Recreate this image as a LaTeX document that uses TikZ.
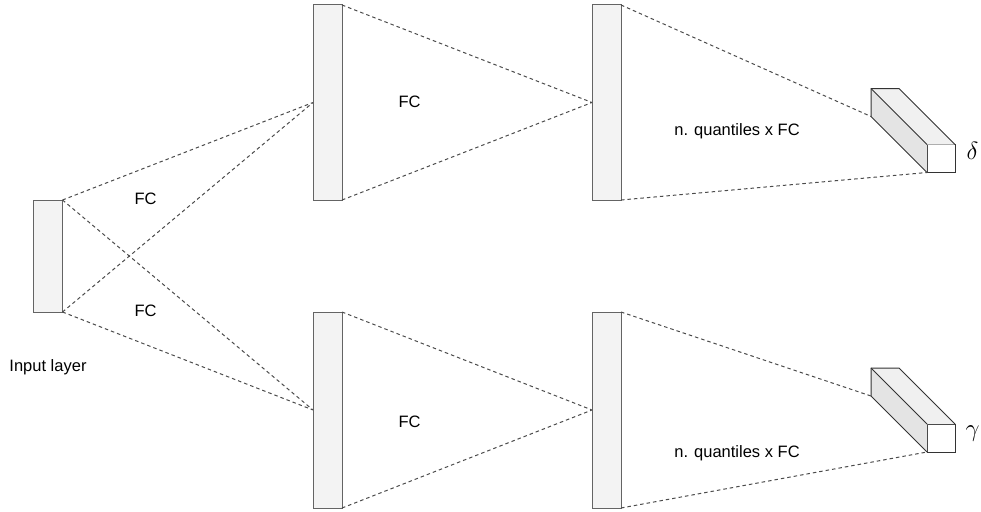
\documentclass[tikz,border=0pt]{standalone}
\usepackage{fontspec}
\setmainfont{Liberation Sans}
\usepackage{xcolor}
\definecolor{nq-fill}{RGB}{243,243,243}
\definecolor{nq-edge}{RGB}{100,100,100}
\definecolor{nq-dash}{RGB}{75,75,75}
\definecolor{nq-top}{RGB}{240,240,240}
\definecolor{nq-side}{RGB}{228,228,228}
\usepackage{tikz}
\usetikzlibrary{positioning}

\begin{document}
\begin{tikzpicture}[x=1pt,y=-1pt,font=\fontsize{16.5}{19}\selectfont,
    layer/.style={draw=nq-edge,fill=nq-fill,line width=1pt,minimum width=29pt,inner sep=0pt,outer sep=0pt},
    link/.style={draw=nq-dash,line width=1pt,dash pattern=on 3.5pt off 3pt},
    front/.style={draw=black!80,fill=white,line width=1pt,minimum size=28pt,inner sep=0pt,outer sep=0pt},
    face/.style={draw=black!80,line width=1pt,line join=round}]
    \useasboundingbox (0,0) rectangle (981,511);
    % layers
    \node[layer,minimum height=112pt] (in0) at (48,256) {};
    \node[layer,minimum height=195pt] (t1) at (327.5,102.5) {};
    \node[layer,minimum height=195pt] (t2) at (606.5,102.5) {};
    \node[layer,minimum height=196pt] (b1) at (327.5,410) {};
    \node[layer,minimum height=196pt] (b2) at (606.5,410) {};
    % output blocks
    \node[front] (dOut) at (941,158.5) {};
    \node[front] (gOut) at (941,438) {};
    \foreach \c in {dOut,gOut} {
        \fill[nq-top] (\c.north west) -- ++(-56,-56) -- ++(28,0) -- (\c.north east) -- cycle;
        \fill[nq-side] (\c.north west) -- ++(-56,-56) -- ++(0,28) -- (\c.south west) -- cycle;
        \draw[face] (\c.south west) -- ++(-56,-56) -- ++(0,-28) -- ++(28,0) -- (\c.north east);
        \draw[face] (\c.north west) -- ++(-56,-56);
        \coordinate (\c-back) at ([shift={(-56,-56)}]\c.south west);
    }
    % connections
    \draw[link] (in0.north east) -- (t1.west) (in0.south east) -- (t1.west);
    \draw[link] (in0.north east) -- (b1.west) (in0.south east) -- (b1.west);
    \draw[link] (t1.north east) -- (t2.west) (t1.south east) -- (t2.west);
    \draw[link] (b1.north east) -- (b2.west) (b1.south east) -- (b2.west);
    \draw[link] (t2.north east) -- (dOut-back) (t2.south east) -- (dOut.south west);
    \draw[link] (b2.north east) -- (gOut-back) (b2.south east) -- (gOut.south west);
    % labels
    \node (fcIn1) at (145.5,199) {FC};
    \node (fcIn2) at (145.5,311) {FC};
    \node (fcT) at (409.5,102) {FC};
    \node (fcB) at (409.5,422) {FC};
    \node (nqT) at (737,131) {n. quantiles x FC};
    \node (nqB) at (737,453) {n. quantiles x FC};
    \node (inLbl) at (48,367) {Input layer};
    \node[right=8pt of dOut,yshift=8pt,font=\fontsize{26}{30}\selectfont] (delta) {$\delta$};
    \node[right=7pt of gOut,yshift=4pt,font=\fontsize{26}{30}\selectfont] (gamma) {$\gamma$};
\end{tikzpicture}
\end{document}
